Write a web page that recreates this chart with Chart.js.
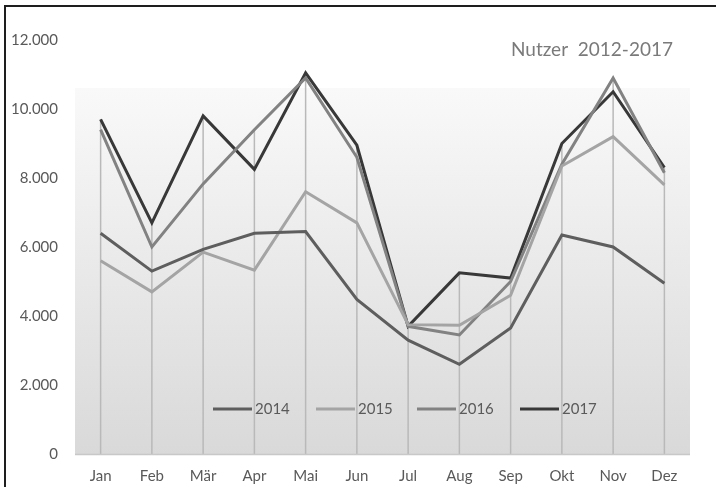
<!DOCTYPE html>
<html>
<head>
<meta charset="utf-8">
<script src="https://cdn.jsdelivr.net/npm/chart.js@4/dist/chart.umd.min.js"></script>
<style>
    html, body { margin: 0; padding: 0; background: #fff; }
    #wrap { position: relative; width: 716px; height: 487px; }
</style>
</head>
<body>
<div id="wrap"><canvas id="usersChart" width="716" height="487"></canvas></div>
<script>
const months = ['Jan', 'Feb', 'Mär', 'Apr', 'Mai', 'Jun', 'Jul', 'Aug', 'Sep', 'Okt', 'Nov', 'Dez'];
const years = ['2014', '2015', '2016', '2017'];

const users2014 = [6400, 5300, 5930, 6400, 6450, 4480, 3300, 2600, 3650, 6350, 6000, 4950];
const users2015 = [5600, 4700, 5850, 5330, 7600, 6700, 3750, 3730, 4600, 8350, 9200, 7800];
const users2016 = [9400, 6000, 7830, 9400, 10900, 8600, 3700, 3450, 5000, 8400, 10900, 8150];
const users2017 = [9700, 6700, 9800, 8250, 11050, 8950, 3700, 5250, 5100, 9000, 10500, 8300];

const yTicks = [0, 2000, 4000, 6000, 8000, 10000, 12000];
const chartTitle = 'Nutzer  2012-2017';

const FONT = 'Lato, "Liberation Sans", sans-serif';
const lineColors = ['#5e5e5e', '#a4a4a4', '#828282', '#383838'];

const formatDe = (v) => String(v).replace(/\B(?=(\d{3})+(?!\d))/g, '.');

// background gradient, drop lines, frame, title and legend
const decorations = {
    id: 'decorations',
    beforeDraw(chart) {
        const { ctx, chartArea } = chart;
        const top = 88;
        const grad = ctx.createLinearGradient(0, top, 0, chartArea.bottom);
        grad.addColorStop(0, '#f9f9f9');
        grad.addColorStop(1, '#d9d9d9');
        ctx.save();
        ctx.fillStyle = grad;
        ctx.fillRect(chartArea.left, top, chartArea.right - chartArea.left, chartArea.bottom - top);
        ctx.restore();
    },
    beforeDatasetsDraw(chart) {
        const { ctx, chartArea, scales } = chart;
        ctx.save();
        ctx.strokeStyle = '#b9b9b9';
        ctx.lineWidth = 1.5;
        months.forEach((m, i) => {
            const maxVal = Math.max(...chart.data.datasets.map(ds => ds.data[i]));
            const x = scales.x.getPixelForValue(i);
            ctx.beginPath();
            ctx.moveTo(x, scales.y.getPixelForValue(maxVal));
            ctx.lineTo(x, chartArea.bottom);
            ctx.stroke();
        });
        // axis baseline
        ctx.strokeStyle = '#c8c8c8';
        ctx.beginPath();
        ctx.moveTo(chartArea.left, chartArea.bottom + 0.5);
        ctx.lineTo(chartArea.right, chartArea.bottom + 0.5);
        ctx.stroke();
        ctx.restore();
    },
    afterDraw(chart) {
        const { ctx } = chart;
        ctx.save();
        // outer frame (left and top edge visible)
        ctx.strokeStyle = '#1e1e1e';
        ctx.lineWidth = 2;
        ctx.beginPath();
        ctx.moveTo(5, 487);
        ctx.lineTo(5, 6);
        ctx.lineTo(716, 6);
        ctx.stroke();

        // title
        ctx.fillStyle = '#7a7a7a';
        ctx.font = '19px ' + FONT;
        ctx.textAlign = 'right';
        ctx.textBaseline = 'middle';
        ctx.fillText(chartTitle, 673, 50);

        // legend inside plot
        ctx.font = '15px ' + FONT;
        ctx.textAlign = 'left';
        const legendX = [213, 316, 417, 520];
        const legendY = 409;
        chart.data.datasets.forEach((ds, i) => {
            ctx.strokeStyle = ds.borderColor;
            ctx.lineWidth = 3;
            ctx.beginPath();
            ctx.moveTo(legendX[i], legendY);
            ctx.lineTo(legendX[i] + 39, legendY);
            ctx.stroke();
            ctx.fillStyle = '#5a5a5a';
            ctx.fillText(ds.label, legendX[i] + 42, legendY);
        });
        ctx.restore();
    }
};

new Chart('usersChart', {
    type: 'line',
    data: {
        labels: months,
        datasets: [users2014, users2015, users2016, users2017].map((vals, i) => ({
            label: years[i],
            data: vals,
            borderColor: lineColors[i],
            backgroundColor: lineColors[i],
            borderWidth: 3,
            pointRadius: 0,
            tension: 0,
            fill: false
        }))
    },
    options: {
        responsive: false,
        animation: false,
        layout: { padding: { left: 0, top: 40, right: 26, bottom: 1 } },
        plugins: {
            legend: { display: false },
            title: { display: false },
            tooltip: { enabled: false }
        },
        scales: {
            x: {
                offset: true,
                afterFit(scale) { scale.height = 32; },
                grid: { display: false, drawTicks: false },
                border: { display: false },
                ticks: {
                    color: '#595959',
                    font: { family: FONT, size: 15 },
                    padding: 13,
                    maxRotation: 0
                }
            },
            y: {
                min: 0,
                max: 12000,
                afterFit(scale) { scale.width = 75; },
                afterBuildTicks(scale) { scale.ticks = yTicks.map(v => ({ value: v })); },
                grid: { display: false, drawTicks: false },
                border: { display: false },
                ticks: {
                    color: '#595959',
                    font: { family: FONT, size: 15 },
                    padding: 17,
                    callback: (v) => formatDe(v)
                }
            }
        }
    },
    plugins: [decorations]
});
</script>
</body>
</html>
